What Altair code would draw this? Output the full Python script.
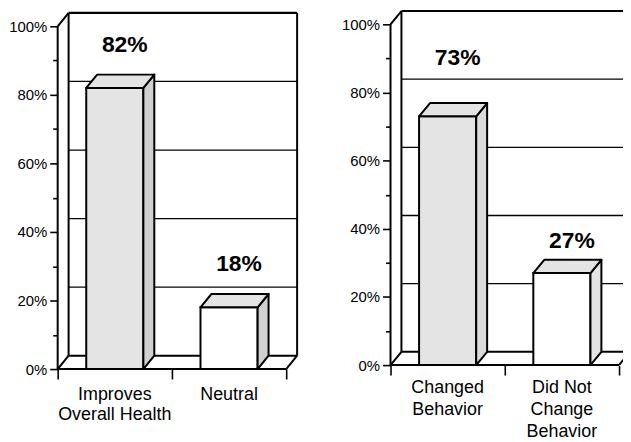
import altair as alt
import pandas as pd

# ---------------- data ----------------
left_categories = ["Improves\nOverall Health", "Neutral"]
left_values = [82, 18]
left_value_labels = ["82%", "18%"]

right_categories = ["Changed\nBehavior", "Did Not\nChange\nBehavior"]
right_values = [73, 27]
right_value_labels = ["73%", "27%"]

y_tick_values = list(range(0, 101, 10))
x_slot_boundaries = [0, 1, 2]

# ---------------- style ----------------
FONT = "'Liberation Sans', Arial, sans-serif"
PX_PER_SLOT = 115.0
DX = 11.0 / PX_PER_SLOT   # depth offset (x, in slot units)
DY = 3.9                  # depth offset (y, in % units)
BAR_L, BAR_R = 0.25, 0.75

X_AXIS = alt.Axis(values=x_slot_boundaries, labels=False, domain=False, grid=False,
                  tickSize=10, tickWidth=1.6, tickColor="black", title=None)
Y_AXIS = alt.Axis(values=y_tick_values, domain=False, grid=False, title=None,
                  tickColor="black", tickWidth=1.6,
                  tickSize={"condition": {"test": "datum.value % 20 === 0", "value": 8}, "value": 5},
                  labelExpr="datum.value % 20 === 0 ? datum.value + '%' : ''",
                  labelFont=FONT, labelFontSize=15, labelColor="black",
                  labelPadding=3, labelOverlap=False)


def make_panel(categories, values, value_labels, label_offsets, front_colors,
               top_colors, side_colors, width, height, ymax, first_dy,
               line_height, cut_right):
    xmax = width / PX_PER_SLOT
    xs = alt.Scale(domain=[0, xmax], nice=False, zero=False)
    ys = alt.Scale(domain=[0, ymax], nice=False, zero=False)
    n = len(categories)

    def X(f):
        return alt.X(f, scale=xs, axis=X_AXIS)

    def Y(f):
        return alt.Y(f, scale=ys, axis=Y_AXIS)

    # ---- wireframe segments ----
    back_right = n + DX
    clipped, free = [], []
    back = clipped if cut_right else free
    for v in [20, 40, 60, 80]:
        back.append(dict(x=DX, x2=back_right, y=v + DY, y2=v + DY, w=1.3))
    back.append(dict(x=DX, x2=back_right, y=100 + DY, y2=100 + DY, w=2.2))
    back.append(dict(x=DX, x2=back_right, y=DY, y2=DY, w=2))
    back.append(dict(x=n, x2=n + DX, y=0, y2=DY, w=2))
    if not cut_right:
        free.append(dict(x=back_right, x2=back_right, y=DY, y2=100 + DY, w=2))
    free.append(dict(x=DX, x2=DX, y=DY, y2=100 + DY, w=2))
    free.append(dict(x=0, x2=n, y=0, y2=0, w=2))
    free.append(dict(x=0, x2=DX, y=0, y2=DY, w=2))
    free.append(dict(x=0, x2=DX, y=100, y2=100 + DY, w=2))
    free.append(dict(x=0, x2=0, y=0, y2=100, w=2))

    def seg_layer(rows, clip):
        return alt.Chart(pd.DataFrame(rows)).mark_rule(color="black", clip=clip).encode(
            x=X("x:Q"), x2="x2:Q",
            y=Y("y:Q"), y2="y2:Q",
            strokeWidth=alt.StrokeWidth("w:Q", scale=None),
        )

    # ---- bars ----
    front_rows, side_rows, top_rows, lab_rows, cat_rows = [], [], [], [], []
    for i, (c, v) in enumerate(zip(categories, values)):
        x0, x1 = i + BAR_L, i + BAR_R
        front_rows.append(dict(g=i, x=x0, x2=x1, y=0, y2=v, f=front_colors[i]))
        side_rows += [dict(g=i, x=x1, y=v, y2=0, f=side_colors[i]),
                      dict(g=i, x=x1 + DX, y=v + DY, y2=DY, f=side_colors[i])]
        top_rows += [dict(g=i, y=v, x=x0, x2=x1, f=top_colors[i]),
                     dict(g=i, y=v + DY, x=x0 + DX, x2=x1 + DX, f=top_colors[i])]
        lab_rows.append(dict(x=i + 0.5, y=v + label_offsets[i], t=value_labels[i]))
        cat_rows.append(dict(x=i + 0.5, y=0, t=c))

    front = alt.Chart(pd.DataFrame(front_rows)).mark_rect(stroke="black", strokeWidth=2).encode(
        x=X("x:Q"), x2="x2:Q",
        y=Y("y:Q"), y2="y2:Q",
        fill=alt.Fill("f:N", scale=None),
    )
    side = alt.Chart(pd.DataFrame(side_rows)).mark_area(stroke="black", strokeWidth=2,
                                                        strokeJoin="round").encode(
        x=X("x:Q"),
        y=Y("y:Q"), y2="y2:Q",
        detail="g:N",
        fill=alt.Fill("f:N", scale=None),
    )
    top = alt.Chart(pd.DataFrame(top_rows)).mark_area(orient="horizontal", stroke="black",
                                                      strokeWidth=2, strokeJoin="round").encode(
        y=Y("y:Q"),
        x=X("x:Q"), x2="x2:Q",
        detail="g:N",
        fill=alt.Fill("f:N", scale=None),
    )

    value_text = alt.Chart(pd.DataFrame(lab_rows)).mark_text(
        font=FONT, fontSize=23, fontWeight="bold", color="black", dx=10,
        align="center", baseline="alphabetic").encode(
        x=X("x:Q"), y=Y("y:Q"), text="t:N",
    )
    cat_text = alt.Chart(pd.DataFrame(cat_rows)).mark_text(
        font=FONT, fontSize=18, color="black", align="center", baseline="alphabetic",
        dy=first_dy, lineBreak="\n", lineHeight=line_height).encode(
        x=X("x:Q"), y=Y("y:Q"), text="t:N",
    )

    layers = []
    if clipped:
        layers.append(seg_layer(clipped, True))
    layers.append(seg_layer(free, False))
    layers += [front, side, top, value_text, cat_text]
    return alt.layer(*layers).properties(width=width, height=height)


left = make_panel(left_categories, left_values, left_value_labels, [10.6, 10.5],
                  ["#e4e4e4", "#ffffff"], ["#e4e4e4", "#e4e4e4"], ["#d0d0d0", "#d0d0d0"],
                  width=244, height=362, ymax=362 / 3.45, first_dy=31, line_height=20,
                  cut_right=False)
right = make_panel(right_categories, right_values, right_value_labels, [15.2, 7.5],
                   ["#e4e4e4", "#ffffff"], ["#e4e4e4", "#e4e4e4"], ["#dadada", "#e4e4e4"],
                   width=234, height=358, ymax=358 / 3.43, first_dy=28, line_height=22,
                   cut_right=True)

chart = alt.hconcat(left, right, spacing=41).properties(padding=0).configure_view(strokeWidth=0)

chart.save("out.html", embed_options={"renderer": "svg", "actions": False})
